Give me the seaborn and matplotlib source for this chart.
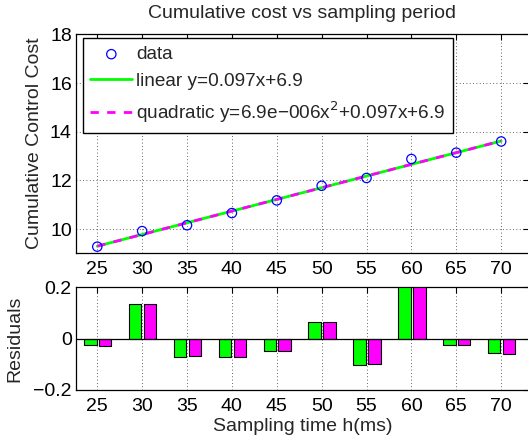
import numpy as np
import pandas as pd
import matplotlib
matplotlib.use("Agg")
import matplotlib.pyplot as plt
import seaborn as sns

# ---- data ----
sampling_ms = [25, 30, 35, 40, 45, 50, 55, 60, 65, 70]
cost = [9.28, 9.92, 10.16, 10.66, 11.18, 11.78, 12.10, 12.88, 13.14, 13.60]
fit_x = [25, 70]
linear_fit = [9.30, 13.62]
quadratic_fit = [9.30, 13.62]
resid_linear = [-0.025, 0.134, -0.070, -0.073, -0.048, 0.064, -0.101, 0.200, -0.023, -0.056]
resid_quadratic = [-0.030, 0.134, -0.069, -0.072, -0.047, 0.065, -0.100, 0.200, -0.024, -0.058]
x_ticks = [25, 30, 35, 40, 45, 50, 55, 60, 65, 70]
y_ticks_top = [10, 12, 14, 16, 18]
y_ticks_bot = [-0.2, 0, 0.2]

sns.set_style("white")
plt.rcParams['font.family'] = ['Liberation Sans', 'DejaVu Sans']
plt.rcParams['axes.unicode_minus'] = True

FS = 14
W, H = 528, 441
fig = plt.figure(figsize=(W / 100, H / 100), dpi=100)

left_px, right_px = 76, 529
ax1 = fig.add_axes([left_px / W, 1 - 253 / H, (right_px - left_px) / W, (253 - 34.3) / H])
ax2 = fig.add_axes([left_px / W, 1 - 390 / H, (right_px - left_px) / W, (390 - 287.3) / H])

xlim = (22.63, 73.1)

df = pd.DataFrame({"h": sampling_ms, "cost": cost})
fit_df = pd.DataFrame({"h": fit_x, "lin": linear_fit, "quad": quadratic_fit})

sns.scatterplot(data=df, x="h", y="cost", ax=ax1, marker="o", s=45,
                facecolor="none", edgecolor=(0, 0, 1), linewidth=0.9,
                label="data", zorder=4)
sns.lineplot(data=fit_df, x="h", y="lin", ax=ax1, color=(0, 1, 0), linewidth=2.0,
             label="linear y=0.097x+6.9", zorder=2)
sns.lineplot(data=fit_df, x="h", y="quad", ax=ax1, color=(1, 0, 1), linewidth=2.0,
             linestyle=(0, (3, 3)),
             label="quadratic y=6.9e\u2212006x$^2$+0.097x+6.9", zorder=3)

for ax in (ax1, ax2):
    ax.set_xlim(*xlim)
    ax.set_xticks(x_ticks)
    ax.set_xticklabels([str(v) for v in x_ticks])
    ax.tick_params(direction="in", length=4, width=0.8, labelsize=FS,
                   top=True, right=True, colors="black")
    ax.tick_params(axis="x", pad=6)
    ax.tick_params(axis="y", pad=3)
    ax.grid(True, linestyle=(0, (1, 3)), color="black", linewidth=0.6, alpha=0.8)
    for s in ax.spines.values():
        s.set_color("black")
        s.set_linewidth(0.9)
    ax.set_axisbelow(True)

ax1.set_ylim(9.02, 18)
ax1.set_yticks(y_ticks_top)
ax1.set_xlabel("")
ax1.set_ylabel("Cumulative Control Cost", fontsize=FS, labelpad=5)
ax1.set_title("Cumulative cost vs sampling period", fontsize=FS, pad=12)

leg = ax1.legend(loc="upper left", bbox_to_anchor=(0.015, 0.982), fontsize=13.7,
                 frameon=True, fancybox=False, edgecolor="black", framealpha=1,
                 handlelength=2.2, handletextpad=0.2, borderpad=0.4, labelspacing=0.5,
                 borderaxespad=0.0)
leg.get_frame().set_linewidth(1.0)

# residual bars
bar_w = 1.4
xs = np.array(sampling_ms, dtype=float)
ax2.bar(xs - 0.78, resid_linear, width=bar_w, color=(0, 1, 0), edgecolor="black",
        linewidth=0.8, zorder=3)
ax2.bar(xs + 0.88, resid_quadratic, width=bar_w, color=(1, 0, 1), edgecolor="black",
        linewidth=0.8, zorder=3)
ax2.axhline(0, color="black", linewidth=0.9, zorder=4)
ax2.set_ylim(-0.2, 0.2)
ax2.set_yticks(y_ticks_bot)
ax2.set_yticklabels(["\u22120.2", "0", "0.2"])
ax2.set_ylabel("Residuals", fontsize=FS, labelpad=7)
ax2.set_xlabel("Sampling time h(ms)", fontsize=FS, labelpad=2)

fig.savefig("out.png", dpi=100)
